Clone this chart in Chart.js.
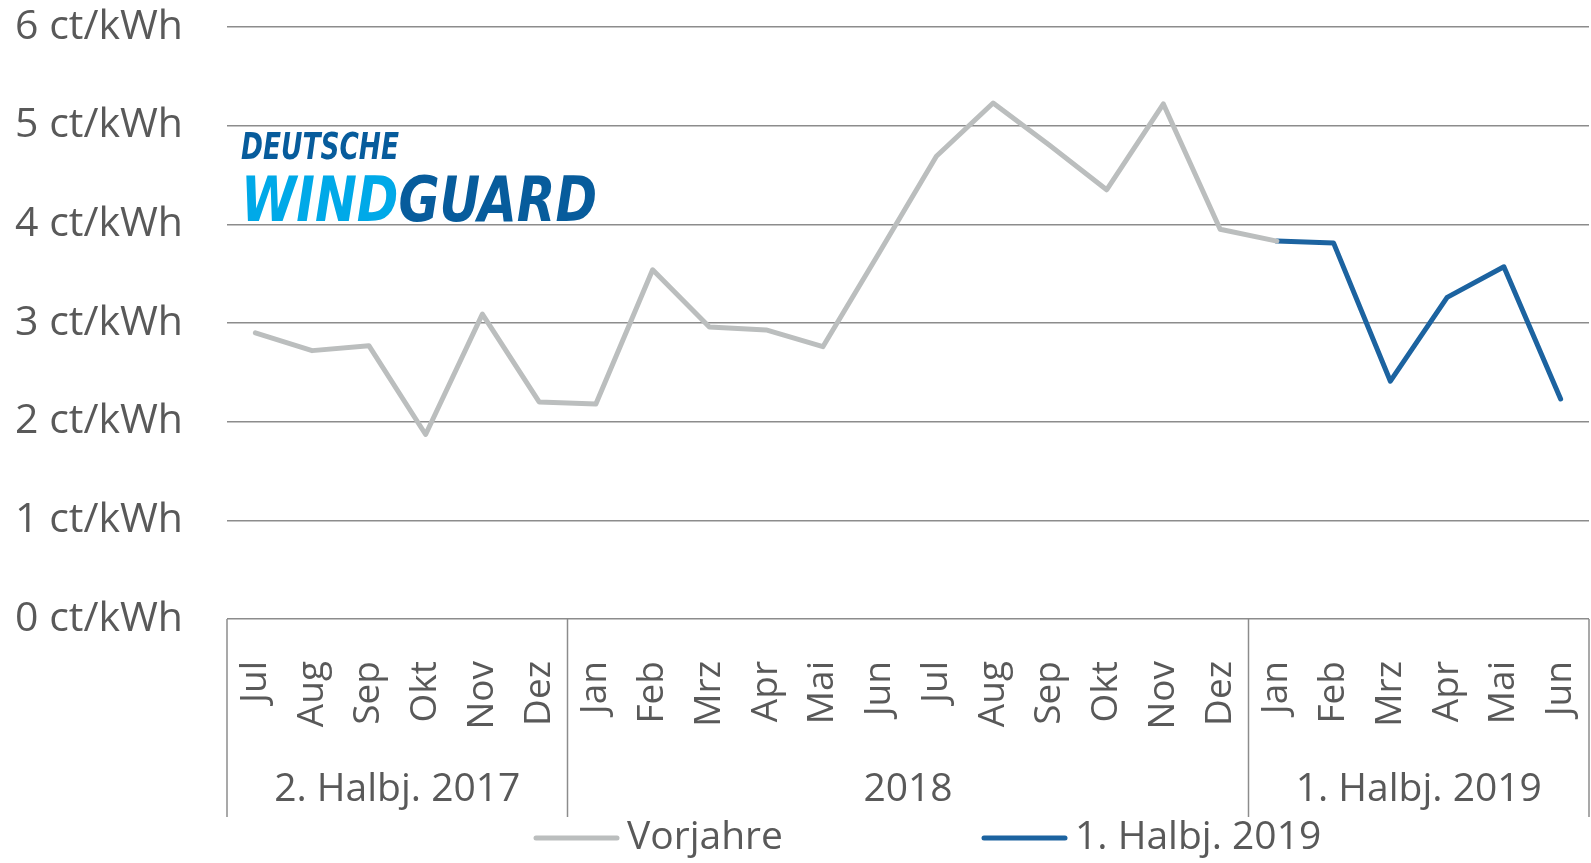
<!DOCTYPE html>
<html>
<head>
<meta charset="utf-8">
<script src="https://cdn.jsdelivr.net/npm/chart.js@4"></script>
<style>
  html, body { margin: 0; padding: 0; background: #fff; }
  #wrap { width: 1591px; height: 863px; position: relative; }
</style>
</head>
<body>
<div id="wrap"><canvas id="chart" width="1591" height="863"></canvas></div>
<script>
// ─── DATA ─────────────────────────────────────────────────────────
const months = ['Jul','Aug','Sep','Okt','Nov','Dez',
                'Jan','Feb','Mrz','Apr','Mai','Jun','Jul','Aug','Sep','Okt','Nov','Dez',
                'Jan','Feb','Mrz','Apr','Mai','Jun'];
const groups = [
    { label: '2. Halbj. 2017', from: 0,  to: 5 },
    { label: '2018',           from: 6,  to: 17 },
    { label: '1. Halbj. 2019', from: 18, to: 23 }
];
const vorjahre = [2.90, 2.72, 2.77, 1.87, 3.09, 2.20,
                  2.18, 3.54, 2.96, 2.93, 2.76, 3.72, 4.69, 5.23, 4.80, 4.35, 5.22, 3.95,
                  3.83, null, null, null, null, null];
const halbj2019 = [null, null, null, null, null, null,
                   null, null, null, null, null, null, null, null, null, null, null, null,
                   3.83, 3.81, 2.41, 3.26, 3.57, 2.23];
const yTicks = [0, 1, 2, 3, 4, 5, 6];
const unit = 'ct/kWh';

const TXT = '#595959';
const GRID = '#8c8c8c';
const FONT = '"Open Sans", sans-serif';

// ─── GROUP LABELS UNDER THE MONTHS ────────────────────────────────
const groupAxis = {
    id: 'groupAxis',
    afterDraw(chart) {
        const { ctx, chartArea, scales: { x } } = chart;
        const half = (x.getPixelForValue(1) - x.getPixelForValue(0)) / 2;
        ctx.save();
        ctx.strokeStyle = GRID;
        ctx.lineWidth = 1.5;
        const edges = [chartArea.left];
        groups.forEach(g => edges.push(g.to === months.length - 1 ? chartArea.right : x.getPixelForValue(g.to) + half));
        edges.forEach(px => {
            ctx.beginPath();
            ctx.moveTo(px, chartArea.bottom);
            ctx.lineTo(px, 817);
            ctx.stroke();
        });
        ctx.fillStyle = TXT;
        ctx.font = '39px ' + FONT;
        ctx.textAlign = 'center';
        ctx.textBaseline = 'middle';
        groups.forEach(g => {
            const cx = (x.getPixelForValue(g.from) + x.getPixelForValue(g.to)) / 2;
            ctx.fillText(g.label, cx, 790);
        });
        ctx.restore();
    }
};

// ─── LEGEND ───────────────────────────────────────────────────────
const lineLegend = {
    id: 'lineLegend',
    afterDraw(chart) {
        const { ctx } = chart;
        const starts = [536, 984];
        ctx.save();
        ctx.font = '39px ' + FONT;
        ctx.textBaseline = 'middle';
        ctx.textAlign = 'left';
        chart.data.datasets.forEach((ds, i) => {
            const x0 = starts[i];
            ctx.strokeStyle = ds.borderColor;
            ctx.lineWidth = 5;
            ctx.lineCap = 'round';
            ctx.beginPath();
            ctx.moveTo(x0, 838);
            ctx.lineTo(x0 + 81, 838);
            ctx.stroke();
            ctx.fillStyle = TXT;
            ctx.fillText(ds.label, x0 + 91, 838);
        });
        ctx.restore();
    }
};

// ─── LOGO ─────────────────────────────────────────────────────────
const logo = {
    id: 'logo',
    afterDraw(chart) {
        const { ctx } = chart;
        ctx.save();
        ctx.textBaseline = 'alphabetic';
        ctx.textAlign = 'left';
        // DEUTSCHE
        ctx.font = 'italic bold 37px "DejaVu Sans"';
        let w = ctx.measureText('DEUTSCHE').width;
        ctx.save();
        ctx.translate(241, 159);
        ctx.scale(158 / w, 1);
        ctx.fillStyle = '#075c9c';
        ctx.fillText('DEUTSCHE', 0, 0);
        ctx.restore();
        // WINDGUARD
        ctx.font = 'italic bold 62px "DejaVu Sans"';
        const wWind = ctx.measureText('WIND').width;
        w = ctx.measureText('WINDGUARD').width;
        ctx.save();
        ctx.translate(241, 221);
        ctx.scale(356 / w, 1);
        ctx.fillStyle = '#00a9e8';
        ctx.fillText('WIND', 0, 0);
        ctx.fillStyle = '#075c9c';
        ctx.fillText('GUARD', wWind, 0);
        ctx.restore();
        ctx.restore();
    }
};

// ─── CHART ────────────────────────────────────────────────────────
new Chart(document.getElementById('chart'), {
    type: 'line',
    data: {
        labels: months,
        datasets: [
            { label: 'Vorjahre', data: vorjahre, borderColor: '#bbbebe' },
            { label: '1. Halbj. 2019', data: halbj2019, borderColor: '#1c63a0' }
        ]
    },
    options: {
        responsive: false,
        animation: false,
        layout: { padding: { top: 27, right: 2, left: 0, bottom: 0 } },
        elements: {
            point: { radius: 0, hoverRadius: 0 },
            line: { tension: 0, borderWidth: 5, borderCapStyle: 'round', borderJoinStyle: 'round' }
        },
        plugins: { legend: { display: false }, tooltip: { enabled: false } },
        scales: {
            x: {
                offset: true,
                grid: { display: false },
                border: { display: false },
                ticks: {
                    autoSkip: false, minRotation: 90, maxRotation: 90, padding: 34,
                    color: TXT, font: { family: FONT, size: 37 }
                },
                afterFit: s => { s.height = 244; s.paddingLeft = 0; s.paddingRight = 0; }
            },
            y: {
                min: yTicks[0], max: yTicks[yTicks.length - 1],
                afterBuildTicks: s => { s.ticks = yTicks.map(v => ({ value: v })); },
                grid: { color: GRID, lineWidth: 1.5, drawTicks: false },
                border: { display: false },
                ticks: {
                    padding: 44, color: TXT, font: { family: FONT, size: 41 },
                    callback: v => v + ' ' + unit
                },
                afterFit: s => { s.width = 227; s.paddingTop = 0; s.paddingBottom = 0; }
            }
        }
    },
    plugins: [groupAxis, lineLegend, logo]
});
</script>
</body>
</html>
